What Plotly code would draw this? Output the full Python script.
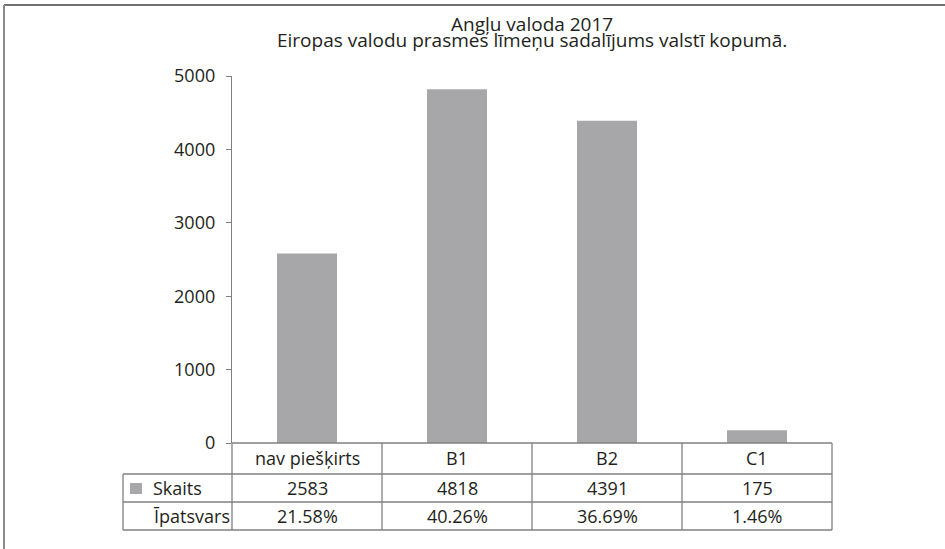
import plotly.graph_objects as go

categories = ["nav piešķirts", "B1", "B2", "C1"]
skaits = [2583, 4818, 4391, 175]
ipatsvars = ["21.58%", "40.26%", "36.69%", "1.46%"]
row_labels = ["Skaits", "Īpatsvars"]
title_lines = ["Angļu valoda 2017", "Eiropas valodu prasmes līmeņu sadalījums valstī kopumā."]
y_ticks = [0, 1000, 2000, 3000, 4000, 5000]

FONT = "Open Sans"
TXT = "#231F20"
LINE = "#808080"
BAR = "#A7A7AA"

W, H = 945, 549
ML, MR, MT, MB = 232, 113, 76, 106
PW, PH = W - ML - MR, H - MT - MB


def py(pix):  # pixel row -> paper y
    return (H - MB - pix) / PH


def px(pix):  # pixel col -> paper x
    return (pix - ML) / PW


fig = go.Figure()
fig.add_trace(go.Bar(x=categories, y=skaits, marker=dict(color=BAR, line=dict(width=0)),
                     hoverinfo="x+y"))

n = len(categories)
row_tops = [443, 474, 502, 530]
left_x = px(123)

shapes = []
for i in range(n + 1):
    shapes.append(dict(type="line", xref="paper", yref="paper", x0=i / n, x1=i / n,
                       y0=py(row_tops[0]), y1=py(row_tops[-1]), line=dict(color=LINE, width=1.3)))
shapes.append(dict(type="line", xref="paper", yref="paper", x0=0, x1=1,
                   y0=py(row_tops[0]), y1=py(row_tops[0]), line=dict(color=LINE, width=1.3)))
for r in row_tops[1:]:
    shapes.append(dict(type="line", xref="paper", yref="paper", x0=left_x, x1=1,
                       y0=py(r), y1=py(r), line=dict(color=LINE, width=1.3)))
shapes.append(dict(type="line", xref="paper", yref="paper", x0=left_x, x1=left_x,
                   y0=py(row_tops[1]), y1=py(row_tops[-1]), line=dict(color=LINE, width=1.3)))
shapes.append(dict(type="rect", xref="paper", yref="paper", x0=px(130), x1=px(142),
                   y0=py(494), y1=py(483), fillcolor=BAR, line=dict(width=0)))
shapes.append(dict(type="line", xref="paper", yref="paper", x0=px(4), x1=px(W),
                   y0=py(5), y1=py(5), line=dict(color="#404040", width=1.5)))
shapes.append(dict(type="line", xref="paper", yref="paper", x0=px(4), x1=px(4),
                   y0=py(5), y1=py(H), line=dict(color="#8a8a8a", width=2)))

ann = []
fs = 18
centers = [(row_tops[i] + row_tops[i + 1]) / 2 for i in range(3)]
for c, s, p in zip(categories, skaits, ipatsvars):
    for txt, yc in zip([c, str(s), p], centers):
        ann.append(dict(x=c, xref="x", y=py(yc), yref="paper", text=txt, showarrow=False,
                        font=dict(size=fs, color=TXT, family=FONT), yanchor="middle"))
for lbl, c in zip(row_labels, centers[1:]):
    ann.append(dict(x=px(151), xref="paper", y=py(c), yref="paper", text=lbl, showarrow=False,
                    xanchor="left", yanchor="middle", font=dict(size=fs, color=TXT, family=FONT)))
for t, yc in zip(title_lines, [23.5, 40.5]):
    ann.append(dict(x=0.5, xref="paper", y=py(yc), yref="paper", text=t, showarrow=False,
                    xanchor="center", yanchor="middle", font=dict(size=19, color=TXT, family=FONT)))

fig.update_layout(
    width=W, height=H,
    margin=dict(l=ML, r=MR, t=MT, b=MB, pad=0),
    paper_bgcolor="white", plot_bgcolor="white",
    showlegend=False, bargap=0.6,
    font=dict(family=FONT, color=TXT, size=18),
    xaxis=dict(type="category", range=[-0.5, n - 0.5], showticklabels=False, ticks="",
               showline=False, showgrid=False, zeroline=False, fixedrange=True),
    yaxis=dict(range=[0, 5000], tickvals=y_ticks, ticks="outside", ticklen=5, tickcolor=LINE,
               tickwidth=1.3, showline=True, linecolor=LINE, linewidth=1.3, showgrid=False,
               zeroline=False, tickfont=dict(size=18, color=TXT, family=FONT),
               ticklabelstandoff=7, fixedrange=True),
    shapes=shapes, annotations=ann,
)

fig.write_html("out.html", config={"displayModeBar": False},
               post_script="document.body.style.margin='0px';document.body.style.overflow='hidden';")
